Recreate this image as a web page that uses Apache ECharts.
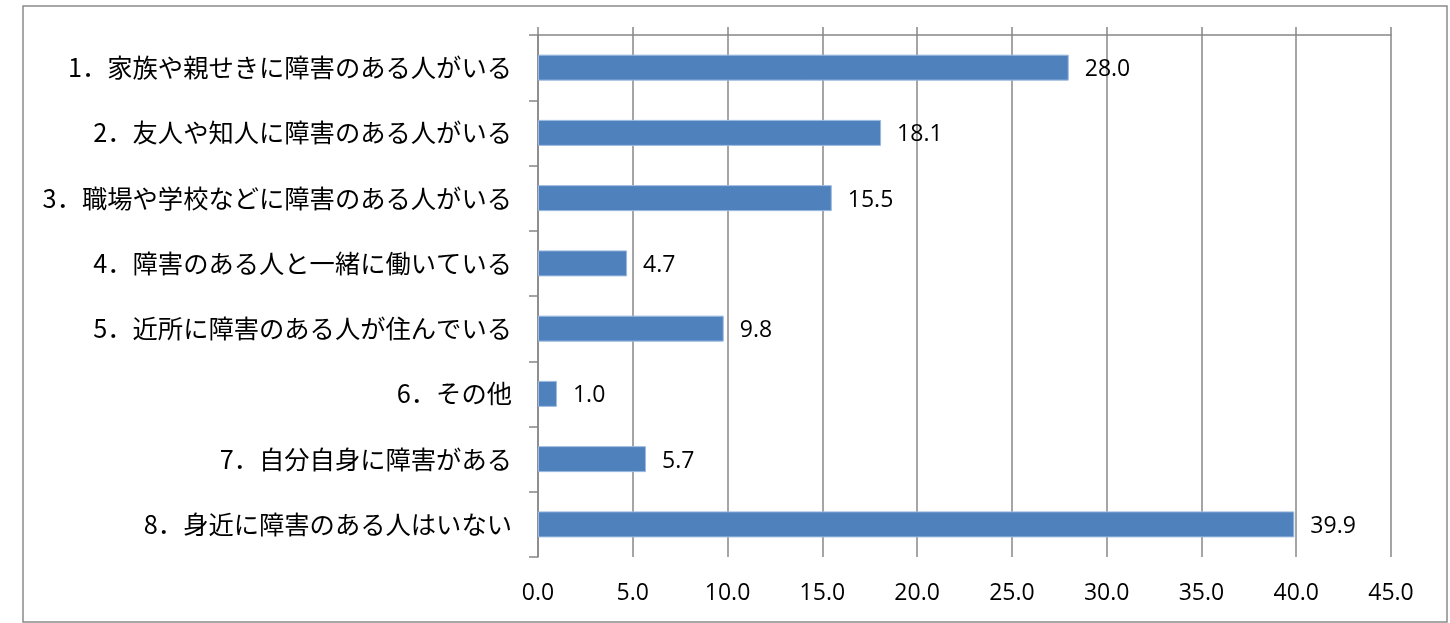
<!DOCTYPE html>
<html>
<head>
<meta charset="utf-8">
<script src="https://cdn.jsdelivr.net/npm/echarts@6/dist/echarts.min.js"></script>
<style>
html,body{margin:0;padding:0;background:#fff;}
#chart{width:1450px;height:623px;}
</style>
</head>
<body>
<div id="chart"></div>
<script>
const categories = [
  '1．家族や親せきに障害のある人がいる',
  '2．友人や知人に障害のある人がいる',
  '3．職場や学校などに障害のある人がいる',
  '4．障害のある人と一緒に働いている',
  '5．近所に障害のある人が住んでいる',
  '6．その他',
  '7．自分自身に障害がある',
  '8．身近に障害のある人はいない'
];
const values = [28.0, 18.1, 15.5, 4.7, 9.8, 1.0, 5.7, 39.9];
const axisMin = 0;
const axisMax = 45;
const axisStep = 5;

const gray = '#878787';
const chart = echarts.init(document.getElementById('chart'), null, {renderer: 'canvas'});
chart.setOption({
  animation: false,
  backgroundColor: '#ffffff',
  graphic: [{
    type: 'rect',
    shape: {x: 23, y: 6, width: 1424, height: 616},
    style: {fill: 'none', stroke: '#8a8a8a', lineWidth: 1.5},
    silent: true
  }],
  grid: {left: 538, right: 59, top: 35, bottom: 66, containLabel: false},
  xAxis: [{
    type: 'value', position: 'bottom',
    min: axisMin, max: axisMax, interval: axisStep,
    axisLine: {show: false},
    axisTick: {show: false},
    splitLine: {show: true, lineStyle: {color: gray, width: 1.5}},
    axisLabel: {
      margin: 25, color: '#000',
      fontFamily: '"Open Sans", sans-serif', fontSize: 23,
      formatter: v => v.toFixed(1)
    }
  }, {
    type: 'value', position: 'top',
    min: axisMin, max: axisMax, interval: axisStep,
    axisLine: {show: true, lineStyle: {color: gray, width: 1.5}},
    axisTick: {show: true, length: 8, lineStyle: {color: gray, width: 1.5}},
    splitLine: {show: false},
    axisLabel: {show: false}
  }],
  yAxis: {
    type: 'category', inverse: true, data: categories,
    axisLine: {show: true, lineStyle: {color: gray, width: 1.5}},
    axisTick: {show: true, length: 9, lineStyle: {color: gray, width: 1.5}},
    axisLabel: {
      margin: 26, color: '#000',
      fontFamily: '"Noto Sans CJK JP", sans-serif', fontSize: 25.3,
      padding: [4, 0, 0, 0]
    }
  },
  series: [{
    type: 'bar', xAxisIndex: 0, data: values, barWidth: 26,
    itemStyle: {color: '#4F81BD', borderColor: '#9dbbe0', borderWidth: 1},
    label: {
      show: true, position: 'right', distance: 16, color: '#000',
      fontFamily: '"Open Sans", sans-serif', fontSize: 23,
      offset: [0, 2],
      formatter: p => p.value.toFixed(1)
    }
  }]
});
</script>
</body>
</html>
